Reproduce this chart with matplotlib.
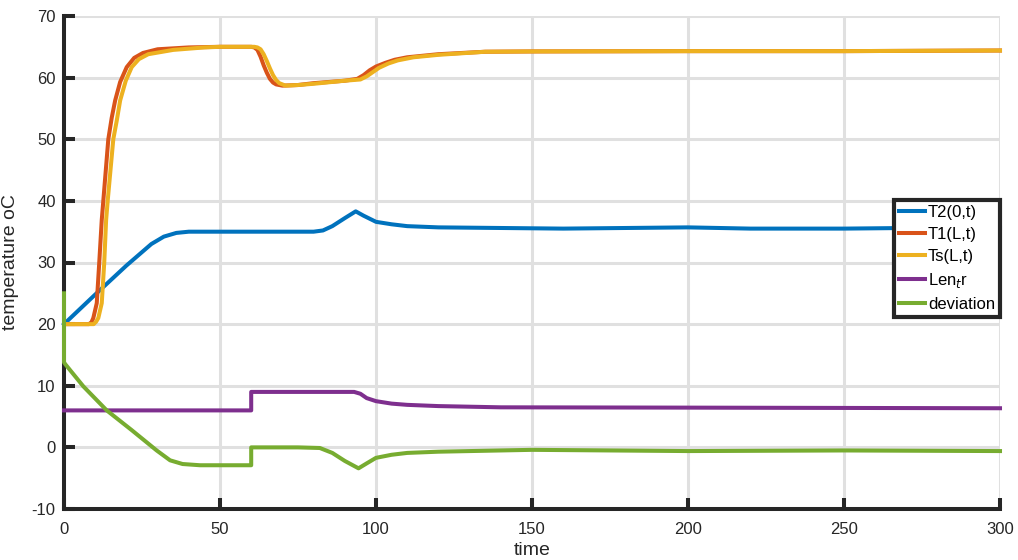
import numpy as np
import matplotlib
matplotlib.use("Agg")
import matplotlib.pyplot as plt

# read-off points (time, value) for each trace
t2_t = [0, 10, 20, 28, 32, 36, 40, 50, 60, 70, 80, 83, 86, 90, 93.5, 96, 100, 105, 110, 120, 140, 160, 180, 200, 220, 250, 270, 300]
t2_v = [20, 24.8, 29.5, 33, 34.2, 34.8, 35, 35, 35, 35, 35, 35.2, 35.9, 37.2, 38.3, 37.6, 36.6, 36.2, 35.9, 35.7, 35.6, 35.5, 35.6, 35.7, 35.5, 35.5, 35.6, 35.6]

t1_t = [0, 8, 8.8, 9.4, 10.5, 11.3, 12.1, 12.6, 14.2, 15.3, 16.4, 18, 20.1, 22.5, 25.3, 30, 40, 50, 60, 61, 62, 63, 64, 65, 66, 67, 68, 70, 75, 80, 90, 94, 96, 98, 100, 103, 106, 110, 120, 135, 150, 200, 250, 300]
t1_v = [20, 20, 20.3, 21, 23.4, 30, 36.9, 40, 50, 53.5, 56.3, 59.3, 61.7, 63.2, 64, 64.6, 64.9, 65, 65, 64.9, 64.5, 63.4, 62, 60.8, 59.8, 59.2, 58.9, 58.7, 58.8, 59.1, 59.5, 59.8, 60.4, 61.2, 61.8, 62.4, 62.9, 63.3, 63.8, 64.2, 64.25, 64.3, 64.3, 64.4]

ts_t = [0, 9.5, 10.3, 11, 12.1, 12.9, 13.5, 14, 15.8, 16.9, 18, 19.8, 21.7, 24, 27, 35, 45, 50, 61, 62, 63, 64, 65, 66, 67, 68, 69, 71, 75, 80, 90, 95, 97, 99, 101, 104, 107, 112, 120, 135, 150, 200, 250, 300]
ts_v = [20, 20, 20.4, 21, 23.4, 30, 36.9, 40, 50, 53, 56.3, 59.5, 61.7, 63, 63.8, 64.5, 64.9, 65, 65, 64.9, 64.6, 63.8, 62.7, 61.5, 60.4, 59.6, 59.1, 58.7, 58.8, 59.0, 59.5, 59.7, 60.2, 60.9, 61.6, 62.3, 62.8, 63.3, 63.7, 64.2, 64.25, 64.3, 64.3, 64.4]

len_t = [0, 60, 60, 93, 95, 97, 100, 105, 110, 120, 140, 200, 250, 300]
len_v = [6, 6, 9, 9, 8.7, 8.0, 7.5, 7.1, 6.9, 6.7, 6.5, 6.45, 6.4, 6.35]

dev_t = [0, 0, 0.4, 6.2, 13.7, 21.7, 29.7, 34, 38, 43.6, 50, 60, 60, 75, 82, 86, 90, 94.4, 97, 100, 105, 110, 120, 140, 150, 200, 250, 300]
dev_v = [25, 13.8, 13.5, 9.9, 6.0, 2.8, -0.5, -2.1, -2.7, -2.9, -2.9, -2.9, 0, 0, -0.1, -0.9, -2.2, -3.4, -2.6, -1.7, -1.2, -0.9, -0.7, -0.5, -0.4, -0.6, -0.5, -0.6]

names = ["T2(0,t)", "T1(L,t)", "Ts(L,t)", "Len$_t$r", "deviation"]
colors = ["#0072BD", "#D95319", "#EDB120", "#7E2F8E", "#77AC30"]

x_ticks = [0, 50, 100, 150, 200, 250, 300]
y_ticks = [-10, 0, 10, 20, 30, 40, 50, 60, 70]

plt.rcParams['font.family'] = ['Liberation Sans', 'DejaVu Sans']
plt.rcParams['axes.unicode_minus'] = False

fig = plt.figure(figsize=(10.18, 5.6), dpi=100)
ax = fig.add_axes([64 / 1018, 1 - 509 / 560, 936 / 1018, 493 / 560])

series = [(t2_t, t2_v), (t1_t, t1_v), (ts_t, ts_v), (len_t, len_v), (dev_t, dev_v)]
for (tt, vv), name, col in zip(series, names, colors):
    ax.plot(tt, vv, color=col, lw=2.9, label=name, solid_joinstyle='round',
            zorder=3, clip_on=False)

ax.set_xlim(0, 300)
ax.set_ylim(-10, 70)
ax.set_xticks(x_ticks)
ax.set_yticks(y_ticks)
ax.grid(True, color='#e0e0e0', lw=2.2)
ax.set_axisbelow(True)
for s in ['top', 'right']:
    ax.spines[s].set_visible(False)
for s in ['left', 'bottom']:
    ax.spines[s].set_linewidth(2.9)
    ax.spines[s].set_color('#262626')
ax.tick_params(direction='in', length=8, width=2.9, colors='#262626', labelsize=12)
ax.tick_params(axis='x', pad=9)
ax.tick_params(axis='y', pad=6)
ax.set_xlabel("time", fontsize=14, color='#262626', labelpad=4)
ax.set_ylabel("temperature oC", fontsize=14, color='#262626', labelpad=9)

leg = ax.legend(loc='upper right', bbox_to_anchor=(1.0, 0.627), borderaxespad=0,
                fontsize=12, handlelength=1.55, handletextpad=0.2, labelspacing=0.42,
                borderpad=0.3, fancybox=False, framealpha=1, edgecolor='#262626')
leg.get_frame().set_linewidth(3)
leg.set_zorder(5)

fig.savefig("out.png", dpi=100)
